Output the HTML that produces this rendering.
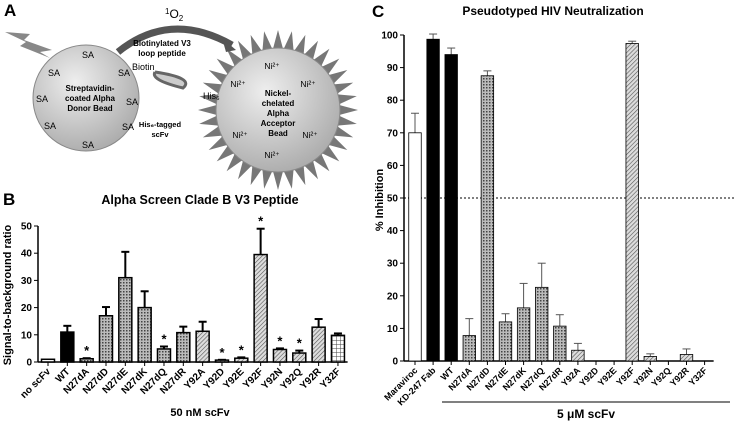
<!DOCTYPE html>
<html><head><meta charset="utf-8"><style>
body{margin:0;background:#fff;font-family:"Liberation Sans",sans-serif}
svg text{font-family:"Liberation Sans",sans-serif}
</style></head><body>
<svg id="fig" width="736" height="423" viewBox="0 0 736 423">
<defs>
<pattern id="hatch" width="3" height="3" patternUnits="userSpaceOnUse" patternTransform="rotate(45)"><rect width="3" height="3" fill="#ddd"/><line x1="0" y1="0" x2="0" y2="3" stroke="#555" stroke-width="1.2"/></pattern>
<pattern id="dots" width="3" height="3" patternUnits="userSpaceOnUse"><rect width="3" height="3" fill="#bbb"/><rect width="1.5" height="1.5" fill="#444"/></pattern>
<pattern id="grid" width="4" height="4" patternUnits="userSpaceOnUse"><rect width="4" height="4" fill="#fff"/><path d="M0 0H4M0 0V4" stroke="#444" stroke-width="1"/></pattern>
<radialGradient id="bead" cx="40%" cy="35%" r="70%"><stop offset="0" stop-color="#eee"/><stop offset="1" stop-color="#aaa"/></radialGradient>
</defs>
<!-- Panel A -->
<g>
<text x="4" y="16" font-size="17" font-weight="bold">A</text>
<polygon points="5,32 30,34 24,40 52,50 40,52 50,58 20,46 26,42" fill="#888"/>
<g id="spikes"></g>
<circle cx="278" cy="110" r="62" fill="url(#bead)" stroke="#888"/>
<circle cx="86" cy="98" r="53" fill="url(#bead)" stroke="#888"/>
<path d="M118 52 Q170 10 232 45" fill="none" stroke="#555" stroke-width="7"/>
<polygon points="222,38 236,50 226,52" fill="#555"/>
<text x="165" y="18" font-size="12"><tspan font-size="8" dy="-4">1</tspan><tspan dy="4">O</tspan><tspan font-size="8" dy="3">2</tspan></text>
<text x="162" y="46" font-size="8" font-weight="bold" text-anchor="middle"><tspan x="162">Biotinylated V3</tspan><tspan x="162" dy="10">loop peptide</tspan></text>
<text x="132" y="70" font-size="9">Biotin</text>
<path d="M155 72 Q195 78 183 88 Q150 80 155 72" fill="#ccc" stroke="#666" stroke-width="3"/>
<text x="160" y="127" font-size="7.5" font-weight="bold" text-anchor="middle"><tspan x="160">His₆-tagged</tspan><tspan x="160" dy="10">scFv</tspan></text>
<text x="203" y="99" font-size="9">His₆</text>
<g font-size="9" text-anchor="middle">
<text x="88" y="58">SA</text><text x="54" y="76">SA</text><text x="124" y="76">SA</text><text x="42" y="102">SA</text><text x="132" y="105">SA</text><text x="50" y="129">SA</text><text x="128" y="130">SA</text><text x="88" y="148">SA</text></g>
<text x="90" y="91" font-size="8" font-weight="bold" text-anchor="middle"><tspan x="90">Streptavidin-</tspan><tspan x="90" dy="10">coated Alpha</tspan><tspan x="90" dy="10">Donor Bead</tspan></text>
<g font-size="8.5" text-anchor="middle">
<text x="272" y="69">Ni²⁺</text><text x="238" y="87">Ni²⁺</text><text x="308" y="87">Ni²⁺</text><text x="240" y="138">Ni²⁺</text><text x="310" y="138">Ni²⁺</text><text x="272" y="158">Ni²⁺</text></g>
<text x="278" y="96" font-size="8" font-weight="bold" text-anchor="middle"><tspan x="278">Nickel-</tspan><tspan x="278" dy="10">chelated</tspan><tspan x="278" dy="10">Alpha</tspan><tspan x="278" dy="10">Acceptor</tspan><tspan x="278" dy="10">Bead</tspan></text>
</g>
<!-- Panel B -->
<text x="3" y="205" font-size="17" font-weight="bold">B</text>
<text x="200" y="204" font-size="12.5" font-weight="bold" text-anchor="middle">Alpha Screen Clade B V3 Peptide</text>
<text transform="translate(11,295) rotate(-90)" font-size="11" font-weight="bold" text-anchor="middle">Signal-to-background ratio</text>
<text x="200" y="416" font-size="11" font-weight="bold" text-anchor="middle">50 nM scFv</text>
<g id="chartB"></g>
<!-- Panel C -->
<text x="372" y="17" font-size="17" font-weight="bold">C</text>
<text x="553" y="15" font-size="12" font-weight="bold" text-anchor="middle">Pseudotyped HIV Neutralization</text>
<text transform="translate(383,200) rotate(-90)" font-size="11" font-weight="bold" text-anchor="middle">% Inhibition</text>
<line x1="442" y1="402" x2="730" y2="402" stroke="#000"/>
<text x="586" y="418" font-size="12" font-weight="bold" text-anchor="middle">5 μM scFv</text>
<g id="chartC"></g>
</svg>
<script>
const bCats=["no scFv","WT","N27dA","N27dD","N27dE","N27dK","N27dQ","N27dR","Y92A","Y92D","Y92E","Y92F","Y92N","Y92Q","Y92R","Y32F"];
const bVals=[1,11,1.2,17,31,20,4.8,10.8,11.3,0.7,1.4,39.5,4.6,3.3,12.8,9.8];
const bErr=[1,13.3,1.4,20.2,40.5,26,5.7,13,14.8,0.8,1.7,49,5,4.2,15.8,10.5];
const bStar=[0,0,1,0,0,0,1,0,0,1,1,1,1,1,0,0];
const bTicks=[0,10,20,30,40,50];
const cCats=["Maraviroc","KD-247 Fab","WT","N27dA","N27dD","N27dE","N27dK","N27dQ","N27dR","Y92A","Y92D","Y92E","Y92F","Y92N","Y92Q","Y92R","Y32F"];
const cVals=[70,98.7,94,7.8,87.5,12,16.3,22.6,10.7,3.3,0,0,97.4,1.4,0,2,0];
const cErr=[76,100.3,96,13,89,14.5,23.8,30,14.2,5.4,0,0,98.1,2.2,0,3.7,0];
const cTicks=[0,10,20,30,40,50,60,70,80,90,100];
const NS="http://www.w3.org/2000/svg";
function mk(p,t,a){const e=document.createElementNS(NS,t);for(const k in a)e.setAttribute(k,a[k]);p.appendChild(e);return e;}
function fillFor(c){if(c==="no scFv"||c==="Maraviroc")return"#fff";if(c==="WT"||c==="KD-247 Fab")return"#000";if(c.startsWith("N27"))return"url(#dots)";if(c==="Y32F")return"url(#grid)";return"url(#hatch)";}
// spikes
const sp=document.getElementById('spikes');
for(let i=0;i<36;i++){const a=i*Math.PI*2/36,b=0.09;const cx=278,cy=110;
const p=[[cx+60*Math.cos(a-b),cy+60*Math.sin(a-b)],[cx+80*Math.cos(a),cy+80*Math.sin(a)],[cx+60*Math.cos(a+b),cy+60*Math.sin(a+b)]];
const s=mk(sp,'polygon',{points:p.map(q=>q.join(',')).join(' '),fill:'#777'});

}
function chart(g,cats,vals,errs,ticks,o){
 const y=v=>o.y0-(v-ticks[0])*(o.y0-o.yTop)/(ticks[ticks.length-1]-ticks[0]);
 const x=i=>o.x0+i*o.step;
 mk(g,'line',{x1:o.ax,y1:y(ticks[0]),x2:o.ax,y2:y(ticks[ticks.length-1]),stroke:'#000','stroke-width':1.5});
 mk(g,'line',{x1:o.ax,y1:y(0),x2:x(cats.length-1)+o.step/2,y2:y(0),stroke:'#000','stroke-width':1.5});
 ticks.forEach(t=>{mk(g,'line',{x1:o.ax-4,y1:y(t),x2:o.ax,y2:y(t),stroke:'#000'});
  const tx=mk(g,'text',{x:o.ax-6,y:y(t)+3.5,'font-size':10,'font-weight':'bold','text-anchor':'end'});tx.textContent=t;
  
  });
 if(o.dash)mk(g,'line',{x1:o.ax,y1:y(50),x2:736,y2:y(50),stroke:'#000','stroke-dasharray':'2,2'});
 cats.forEach((c,i)=>{const cx=x(i);
  mk(g,'line',{x1:cx,y1:y(0),x2:cx,y2:y(0)+4,stroke:'#000'});
  if(errs[i]>vals[i]){mk(g,'line',{x1:cx,y1:y(vals[i]),x2:cx,y2:y(errs[i]),stroke:o.ec,'stroke-width':o.ew});
   mk(g,'line',{x1:cx-4,y1:y(errs[i]),x2:cx+4,y2:y(errs[i]),stroke:o.ec,'stroke-width':o.ew});}
  if(vals[i]>0){const r=mk(g,'rect',{x:cx-o.bw/2,y:y(vals[i]),width:o.bw,height:y(0)-y(vals[i]),fill:fillFor(c),stroke:'#000','stroke-width':o.sw});
   
   }
  if(o.stars&&o.stars[i]){const s=mk(g,'text',{x:cx,y:y(errs[i])-3,'font-size':13,'font-weight':'bold','text-anchor':'middle'});s.textContent='*';
   
   }
  const l=mk(g,'text',{transform:`translate(${cx+3},${y(0)+10}) rotate(-45)`,'font-size':o.fs,'font-weight':'bold','text-anchor':'end'});l.textContent=c;
  
  
 });
}
chart(document.getElementById('chartB'),bCats,bVals,bErr,bTicks,{y0:362,yTop:226,x0:48,step:19.33,ax:38,bw:13,ec:'#000',ew:2,sw:1.5,stars:bStar,fs:10});
chart(document.getElementById('chartC'),cCats,cVals,cErr,cTicks,{y0:361,yTop:35,x0:415,step:18.1,ax:404,bw:12.5,ec:'#555',ew:1,sw:0.8,dash:1,fs:9});
</script>
</body></html>
